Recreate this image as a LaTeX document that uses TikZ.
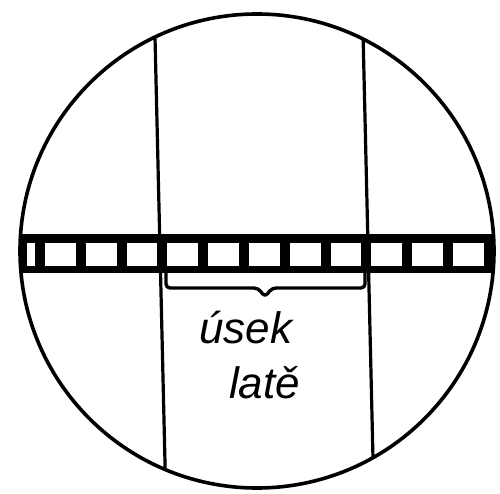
\documentclass[tikz,border=0pt]{standalone}
\usepackage{fontspec}
\setmainfont{Liberation Sans}
\tikzset{
  rim/.style={line width=3.6pt},
  hair/.style={line width=3.2pt},
  bracestyle/.style={line width=3.4pt, rounded corners=4pt, line join=round},
  label/.style={font=\fontsize{44}{50}\selectfont\itshape, inner sep=0pt, anchor=base west}
}
\begin{document}
\begin{tikzpicture}[x=1pt,y=-1pt]
\useasboundingbox (0,0) rectangle (500,494);
\fill[white] (0,0) rectangle (500,494);
\coordinate (c) at (257,251);
% strip and vertical lines clipped to the circle
\begin{scope}
  \clip (c) circle[radius=237pt];
  \fill[black] (0,234) rectangle (500,273);
  \fill[white] (27,243) rectangle (35,266);
  \foreach \k in {0,...,10}{
    \fill[white] ({40+40.8*\k+5},243) rectangle ({40+40.8*(\k+1)-5},266);
  }
  \draw[hair] (154.6,20) -- (165.4,480);
  \draw[hair] (362.7,20) -- (373.5,480);
\end{scope}
\draw[rim] (c) circle[radius=237pt];
% brace
\draw[bracestyle] (166,273) -- (166,288) -- (258,288) -- (265,297) -- (272,288) -- (365,288) -- (365,273);
% labels
\node[label] (t1) at (199,343) {úsek};
\node[label] (t2) at (229,398) {latě};
\end{tikzpicture}
\end{document}
